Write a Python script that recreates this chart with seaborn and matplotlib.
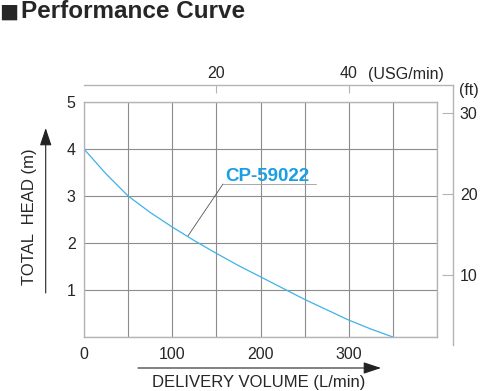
import numpy as np
import pandas as pd
import matplotlib
matplotlib.use("Agg")
import matplotlib.pyplot as plt
import seaborn as sns

# ---- data ----
flow_lpm = [0, 25, 50, 75, 100, 125, 150, 175, 200, 225, 250, 275, 300, 325, 350]
head_m = [4.0, 3.47, 3.0, 2.65, 2.34, 2.05, 1.78, 1.52, 1.28, 1.04, 0.80, 0.58, 0.36, 0.17, 0.0]
model = "CP-59022"
x_ticks = [0, 100, 200, 300]
y_ticks = [1, 2, 3, 4, 5]
usg_ticks = [20, 40]
ft_ticks = [10, 20, 30]

sns.set_style("white")
plt.rcParams['font.family'] = ['Liberation Sans', 'DejaVu Sans']

W, H = 480, 391
fig = plt.figure(figsize=(4.8, 3.91), dpi=100)


def box(x0, y0, x1, y1):
    return [x0 / W, 1 - y1 / H, (x1 - x0) / W, (y1 - y0) / H]


frame_col = '#b4b4b4'
grid_col = '#8c8c8c'

# ---- outer axes: USG/min (top) and ft (right) ----
ax2 = fig.add_axes(box(84, 85, 453, 345))
ax2.patch.set_alpha(0)
ax2.set_xlim(0, 55.75)
ax2.set_ylim(1.34, 33.5)
for s in ['left', 'bottom']:
    ax2.spines[s].set_visible(False)
for s in ['top', 'right']:
    ax2.spines[s].set_color(frame_col)
    ax2.spines[s].set_linewidth(1.0)
ax2.xaxis.tick_top()
ax2.yaxis.tick_right()
ax2.set_xticks(usg_ticks)
ax2.set_yticks(ft_ticks)
ax2.tick_params(axis='x', direction='in', length=6, width=0.8, color=frame_col,
                labelsize=11.5, pad=3)
ax2.tick_params(axis='y', direction='in', length=8, width=0.8, color=frame_col,
                labelsize=11.5, pad=5)

# ---- main axes ----
ax = fig.add_axes(box(84, 102, 437, 337))
ax.patch.set_alpha(0)
df = pd.DataFrame({'flow': flow_lpm, 'head': head_m})
sns.lineplot(data=df, x='flow', y='head', ax=ax, color='#3fb2e8', linewidth=0.9)
ax.set_xlim(0, 400)
ax.set_ylim(0, 5)
ax.set_xticks(np.arange(0, 401, 50), minor=False)
ax.set_yticks(np.arange(0, 6, 1))
ax.set_xticklabels([str(v) if v in x_ticks else '' for v in np.arange(0, 401, 50)])
ax.set_yticklabels([str(v) if v in y_ticks else '' for v in np.arange(0, 6, 1)])
ax.grid(True, color=grid_col, linewidth=0.8)
ax.set_axisbelow(True)
for s in ax.spines.values():
    s.set_color(frame_col)
    s.set_linewidth(1.0)
ax.tick_params(axis='both', length=0, labelsize=11.5)
ax.tick_params(axis='x', pad=7)
ax.tick_params(axis='y', pad=6)
ax.set_xlabel('')
ax.set_ylabel('')

# annotation
ax.plot([262.9, 157.5], [3.255, 3.255], color='#9a9a9a', linewidth=0.6)
ax.plot([157.5, 117.8], [3.255, 2.15], color='#555555', linewidth=0.6)
ax.text(159.5, 3.31, model, color='#1a9fe3', fontsize=13.5, fontweight='bold',
        ha='left', va='baseline')

# ---- texts in figure pixels ----
def fp(x, y):
    return (x / W, 1 - y / H)

fig.text(*fp(-0.5, 18), '■', fontsize=14.5, family=['DejaVu Sans'],
         ha='left', va='baseline')
fig.text(*fp(21, 18), 'Performance Curve', fontsize=17.5, fontweight='bold',
         ha='left', va='baseline')
fig.text(*fp(406, 75), '(USG/min)', fontsize=11.5, ha='center', va='center')
fig.text(*fp(469, 90), '(ft)', fontsize=11.5, ha='center', va='center')
fig.text(*fp(30, 217), 'TOTAL  HEAD (m)', fontsize=12, rotation=90,
         ha='center', va='center')
fig.text(*fp(259, 382), 'DELIVERY VOLUME (L/min)', fontsize=12,
         ha='center', va='center')

arrow_kw = dict(arrowstyle='-|>,head_length=0.9,head_width=0.3', color='#222222',
                lw=0.8, mutation_scale=12, shrinkA=0, shrinkB=0)
fig.add_artist(matplotlib.patches.FancyArrowPatch(fp(45.7, 293), fp(45.7, 128),
                                                  transform=fig.transFigure, **arrow_kw))
fig.add_artist(matplotlib.patches.FancyArrowPatch(fp(138, 368), fp(381, 368),
                                                  transform=fig.transFigure, **arrow_kw))

fig.savefig('out.png', dpi=100)
